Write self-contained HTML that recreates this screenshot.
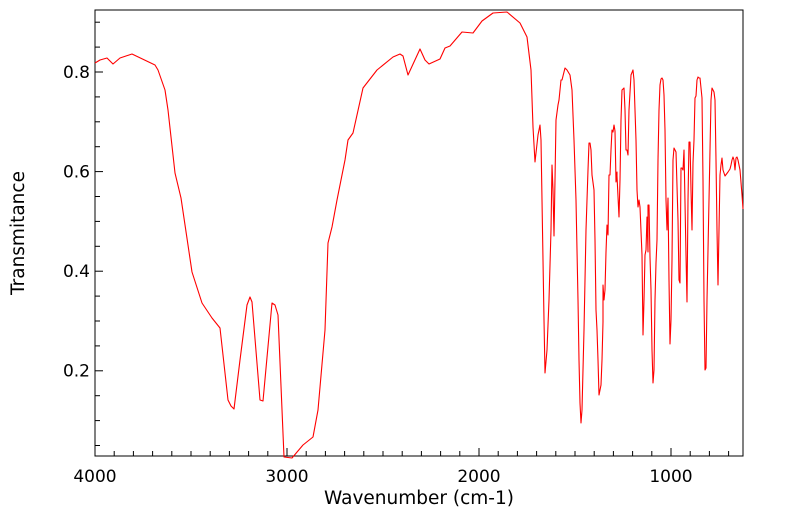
<!DOCTYPE html>
<html><head><meta charset="utf-8"><style>
html,body{margin:0;padding:0;background:#fff;}
svg{display:block;font-family:"DejaVu Sans","Liberation Sans",sans-serif;}
</style></head><body>
<svg width="799" height="516" viewBox="0 0 799 516" xmlns="http://www.w3.org/2000/svg">
<rect x="0" y="0" width="799" height="516" fill="#fff"/>
<g stroke="#000" stroke-width="1">
<path d="M95 456V10H743V456Z" fill="none"/>
</g>
<g id="xt" stroke="#000" stroke-width="1"></g>
<g id="yt" stroke="#000" stroke-width="1"></g>
<g font-size="17" fill="#000" text-anchor="middle">
<text x="95" y="482">4000</text>
<text x="287" y="482">3000</text>
<text x="479" y="482">2000</text>
<text x="671" y="482">1000</text>
</g>
<text x="419" y="504" font-size="18.5" text-anchor="middle">Wavenumber (cm-1)</text>
<g font-size="17" fill="#000" text-anchor="end">
<text x="90" y="78">0.8</text>
<text x="90" y="177.5">0.6</text>
<text x="90" y="277">0.4</text>
<text x="90" y="376.5">0.2</text>
</g>
<text x="24" y="233" font-size="18.5" text-anchor="middle" transform="rotate(-90 24 233)">Transmitance</text>
<polyline fill="none" stroke="#ff0000" stroke-width="1.1" stroke-linejoin="round" points="95,63 100,60 107,58 113,64 120,58 132,54 155,65 158,70 165,90 168,110 175,173 181,198 192,272 202,303 212,318 220,328 228,400 231,406 234,409 240,360 247,305 250,297 252,302 260,400 263,401 272,303 275,305 278,315 284,457 292,458 303,445 313,437 318,410 325,330 328,243 332,227 337,200 345,160 348,140 353,133 363,88 377,70 393,57 400,54 403,56 408,75 420,49 425,60 429,64 440,59 445,48 450,46 462,32 473,33 482,21 493,13 507,12 520,23 527,37 531,70 533,127 535,162 538,135 540,125 541,140 542,200 543,260 544,320 545,373 547,350 549,300 551,230 552,165 553,190 554,236 555,180 556,120 558,105 559,100 561,80 562,80 565,68 567,70 570,75 572,90 574,140 576,200 578,300 579,360 580,403 581,423 582,410 584,330 586,230 588,170 589,143 590,143 591,150 592,175 594,190 595,240 596,310 597,330 598,360 599,395 601,385 602,360 603,322 603,285 604,300 605,290 606,252 607,225 608,235 609,175 610,175 611,150 612,130 613,132 614,125 615,131 616,182 617,172 617,176 619,217 620,180 621,120 622,90 624,88 625,110 626,150 627,150 628,155 629,110 631,75 633,70 634,80 636,140 637,190 638,207 639,200 640,207 642,255 643,335 644,300 645,255 646,250 647,217 648,252 648,205 649,205 650,257 651,290 652,350 653,383 654,370 655,300 656,263 657,240 658,160 659,110 660,85 661,79 662,78 663,80 664,95 665,130 666,200 667,230 668,198 669,280 670,344 671,320 672,260 673,160 674,148 675,150 676,152 678,220 679,280 680,283 681,168 682,168 683,170 684,150 686,255 687,302 688,200 689,142 690,142 691,190 692,230 693,163 694,140 695,98 696,96 697,80 698,77 699,78 700,78 702,98 703,180 704,300 705,370 706,368 707,300 709,200 711,100 712,88 713,90 714,92 715,100 716,160 717,230 718,285 719,230 720,175 721,165 722,158 723,170 725,176 728,172 730,169 731,165 732,160 733,157 734,160 735,170 736,158 737,157 738,160 740,170 742,195 743,209"/>
<script>
(function(){
var ns="http://www.w3.org/2000/svg";
var xt=document.getElementById("xt"),yt=document.getElementById("yt");
function ln(g,x1,y1,x2,y2){var l=document.createElementNS(ns,"line");l.setAttribute("x1",x1);l.setAttribute("y1",y1);l.setAttribute("x2",x2);l.setAttribute("y2",y2);g.appendChild(l);}
for(var w=4000;w>=625;w-=100){var x=95+(4000-w)*0.192;var L=(w%1000==0)?8:5;ln(xt,x,456,x,456-L);}
for(var i=1;i<=18;i++){var v=i*0.05;var y=72+(0.8-v)*498;if(y<10||y>456)continue;var L=(i%4==0)?8:5;ln(yt,95,y,95+L,y);}
})();
</script>
</svg>
</body></html>
